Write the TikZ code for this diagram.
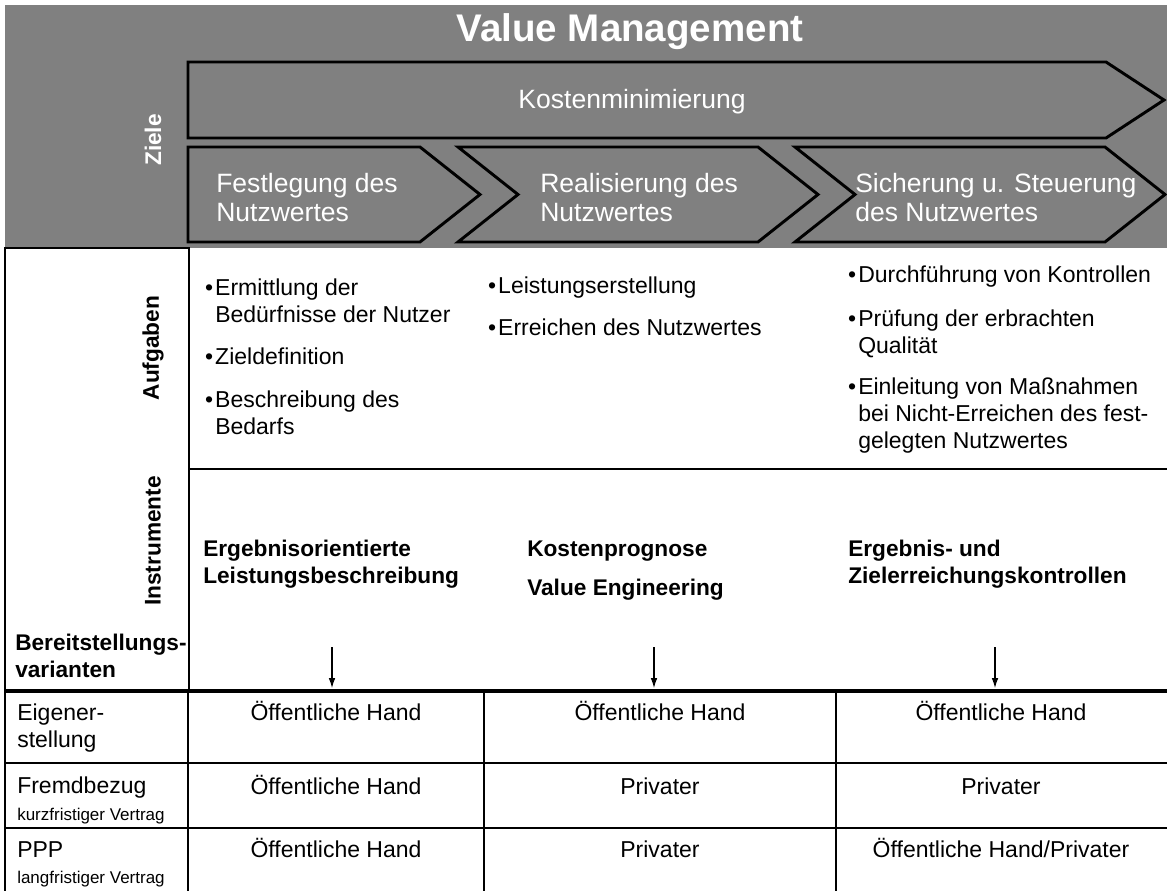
\documentclass[tikz,border=0pt]{standalone}
\usepackage{fontspec}
\setmainfont{Liberation Sans}
\usetikzlibrary{arrows.meta}
\definecolor{zielgrau}{RGB}{128,128,128}

\tikzset{
  pfeil/.style={line width=0.8pt, -{Latex[length=7.5pt,width=5pt]}},
  chevron/.style={draw=black, fill=zielgrau, line width=2.2pt},
  titel/.style={text=white, font=\bfseries\fontsize{28.9}{32}\selectfont, anchor=base, inner sep=0pt},
  ziel/.style={text=white, font=\fontsize{19.9}{21.75}\selectfont, align=left, anchor=base west, inner sep=0pt},
  seite/.style={font=\bfseries\fontsize{17}{20}\selectfont, rotate=90, inner sep=0pt},
  aufgabe/.style={font=\fontsize{17.25}{20.25}\selectfont, align=left, anchor=base west, inner sep=0pt},
  instrument/.style={font=\bfseries\fontsize{17}{20.25}\selectfont, align=left, anchor=base west, inner sep=0pt},
  zelle/.style={font=\fontsize{17.25}{20.25}\selectfont, anchor=base, inner sep=0pt},
  variante/.style={font=\fontsize{17.25}{20.25}\selectfont, anchor=base west, inner sep=0pt},
  vertrag/.style={font=\fontsize{12.75}{14}\selectfont, anchor=base west, inner sep=0pt},
}

\begin{document}
\begin{tikzpicture}[x=0.75pt, y=-0.75pt]
				\useasboundingbox (0,0) rectangle (1167,891);
				
				% Ziele
				\fill[zielgrau] (5,5) rectangle (1167,248);
				\node[titel] (vm) at (630,42) {Value Management};
				\draw[chevron] (188,62) -- (1106,62) -- (1164,100) -- (1106,138) -- (188,138) -- cycle;
				\draw[chevron] (188,147) -- (420,147) -- (480,194.5) -- (420,242) -- (188,242) -- cycle;
				\draw[chevron] (458,147) -- (758,147) -- (818,194.5) -- (758,242) -- (458,242) -- (518,194.5) -- cycle;
				\draw[chevron] (795,147) -- (1105,147) -- (1165,194.5) -- (1105,242) -- (795,242) -- (855,194.5) -- cycle;
				\node[ziel, anchor=base] (kosten) at (632,109) {Kostenminimierung};
				% base = letzte Zeile
				\node[ziel] (z1) at (216,222) {Festlegung des\\Nutzwertes};
				\node[ziel] (z2) at (540,222) {Realisierung des\\Nutzwertes};
				\node[ziel] (z3) at (855,222) {Sicherung u. Steuerung\\des Nutzwertes};
				\node[seite, text=white] (ziele) at (153,140) {Ziele};
				
				% Aufgaben und Instrumente
				\draw[line width=2.2pt] (5,248) rectangle (189,690);
				\draw[line width=2.2pt] (189,469) -- (1167,469);
				\node[seite] (aufg) at (153,348) {Aufgaben};
				\node[seite] (instr) at (153,541) {Instrumente};
				\node[aufgabe] (a11) at (215,322) {\llap{\textbullet\hspace{1.5pt}}Ermittlung der\\Bedürfnisse der Nutzer};
				\node[aufgabe] (a12) at (215,364) {\llap{\textbullet\hspace{1.5pt}}Zieldefinition};
				\node[aufgabe] (a13) at (215,434) {\llap{\textbullet\hspace{1.5pt}}Beschreibung des\\Bedarfs};
				\node[aufgabe] (a21) at (498,294) {\llap{\textbullet\hspace{1.5pt}}Leistungserstellung};
				\node[aufgabe] (a22) at (498,335) {\llap{\textbullet\hspace{1.5pt}}Erreichen des Nutzwertes};
				\node[aufgabe] (a31) at (858,283) {\llap{\textbullet\hspace{1.5pt}}Durchführung von Kontrollen};
				\node[aufgabe] (a32) at (858,353) {\llap{\textbullet\hspace{1.5pt}}Prüfung der erbrachten\\Qualität};
				\node[aufgabe] (a33) at (858,448) {\llap{\textbullet\hspace{1.5pt}}Einleitung von Maßnahmen\\bei Nicht-Erreichen des fest-\\gelegten Nutzwertes};
				\node[instrument] (i1) at (203,583) {Ergebnisorientierte\\Leistungsbeschreibung};
				\node[instrument] (i2a) at (527,556) {Kostenprognose};
				\node[instrument] (i2b) at (527,595) {Value Engineering};
				\node[instrument] (i3) at (848,583) {Ergebnis- und\\Zielerreichungskontrollen};
				\node[instrument] (bv) at (15,677) {Bereitstellungs-\\varianten};
				
				\coordinate (p1) at (332,647); \coordinate (q1) at (332,688);
				\coordinate (p2) at (654,647); \coordinate (q2) at (654,688);
				\coordinate (p3) at (995,647); \coordinate (q3) at (995,688);
				\draw[pfeil] (p1) -- (q1);
				\draw[pfeil] (p2) -- (q2);
				\draw[pfeil] (p3) -- (q3);
				
				% Bereitstellungsvarianten
				\draw[line width=3pt] (5,691) -- (1167,691);
				\draw[line width=1.1pt] (5,763) -- (1167,763);
				\draw[line width=1.1pt] (5,828) -- (1167,828);
				\draw[line width=2.2pt] (5,690) -- (5,891);
				\foreach \x in {188,484,836}
					\draw[line width=1.1pt] (\x,691) -- (\x,891);
				
				\node[variante] (v1) at (17,720) {Eigener-};
				\node[variante] (v1b) at (17,747) {stellung};
				\node[variante] (v2) at (17,793) {Fremdbezug};
				\node[vertrag] (v2b) at (17,820) {kurzfristiger Vertrag};
				\node[variante] (v3) at (17,857) {PPP};
				\node[vertrag] (v3b) at (17,883) {langfristiger Vertrag};
				
				\node[zelle] (c11) at (336,720) {Öffentliche Hand};
				\node[zelle] (c12) at (660,720) {Öffentliche Hand};
				\node[zelle] (c13) at (1001,720) {Öffentliche Hand};
				\node[zelle] (c21) at (336,794) {Öffentliche Hand};
				\node[zelle] (c22) at (660,794) {Privater};
				\node[zelle] (c23) at (1001,794) {Privater};
				\node[zelle] (c31) at (336,857) {Öffentliche Hand};
				\node[zelle] (c32) at (660,857) {Privater};
				\node[zelle] (c33) at (1001,857) {Öffentliche Hand/Privater};
			\end{tikzpicture}
\end{document}
